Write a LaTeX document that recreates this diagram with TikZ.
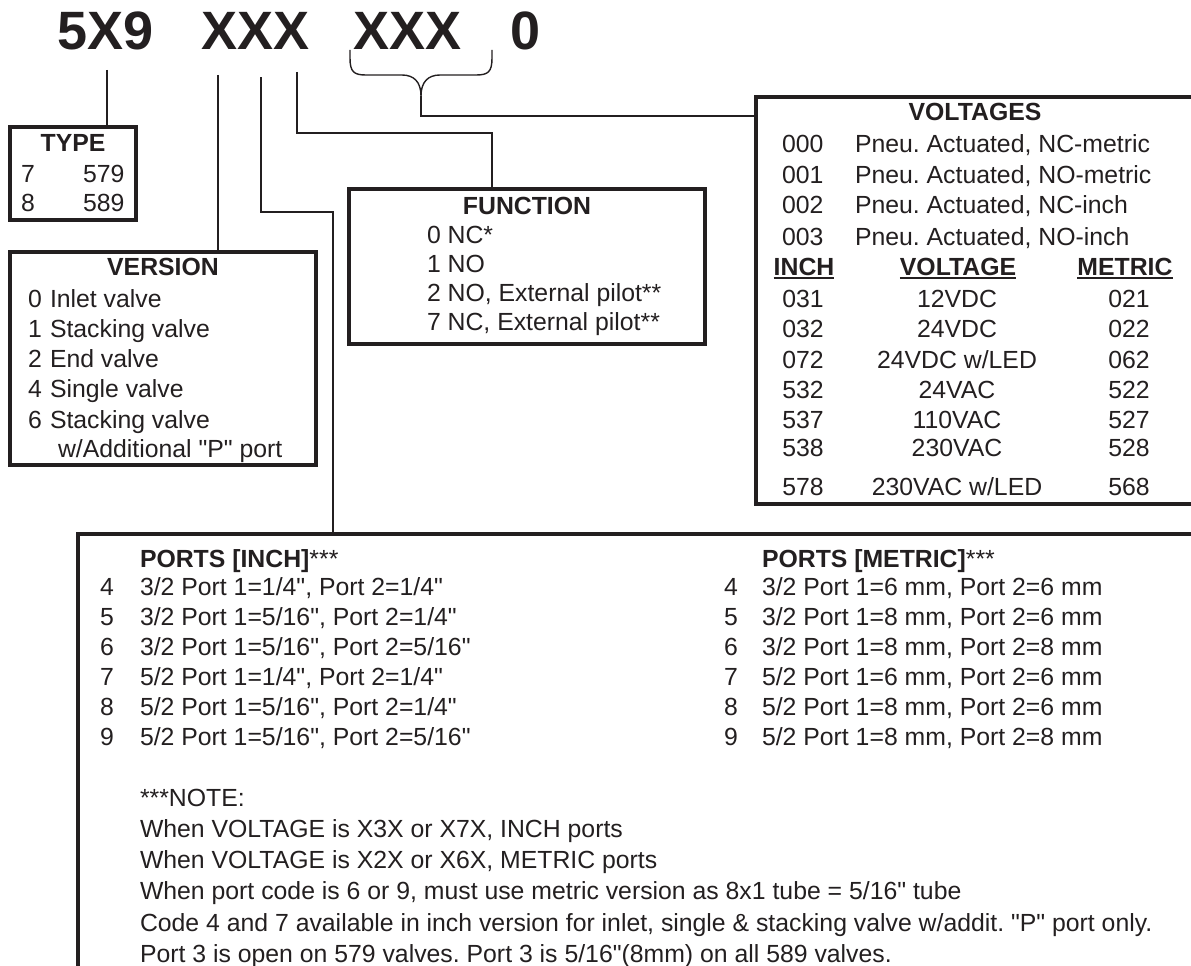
\documentclass[tikz,border=0pt]{standalone}
\usepackage{fontspec}
\setmainfont{Liberation Sans}[Ligatures=TeXOff]
\definecolor{ink}{RGB}{35,31,32}
\frenchspacing
\begin{document}
\begin{tikzpicture}[x=1pt,y=-1pt,
  every node/.style={inner sep=0pt,outer sep=0pt,text=ink},
  box/.style={draw=ink,line width=3.2pt,anchor=north west},
  conn/.style={draw=ink,line width=1.4pt},
  tl/.style={anchor=base west,font=\fontsize{24.8}{29}\selectfont},
  tc/.style={anchor=base,font=\fontsize{24.8}{29}\selectfont},
  th/.style={anchor=base,font=\fontsize{24.8}{29}\selectfont\bfseries},
  thl/.style={anchor=base west,font=\fontsize{24.8}{29}\selectfont\bfseries},
  hdr/.style={anchor=base west,font=\fontsize{54}{60}\selectfont\bfseries},
  ul/.style={draw=ink,line width=2pt}]
\useasboundingbox (0,0) rectangle (1191,966);

% header code
\node[hdr] (h1) at (57,50) {5X9};
\node[hdr] (h2) at (201,50) {XXX};
\node[hdr] (h3) at (353,50) {XXX};
\node[hdr] (h4) at (510,50) {0};

% boxes
\node[box,minimum width=126pt,minimum height=93pt] (typebox) at (10,127) {};
\node[box,minimum width=306pt,minimum height=213pt] (versionbox) at (10,252) {};
\node[box,minimum width=356pt,minimum height=155pt] (funcbox) at (349,189) {};
\node[box,minimum width=460pt,minimum height=407pt] (voltbox) at (756,97) {};
\node[box,minimum width=1140pt,minimum height=460pt] (portsbox) at (78,534) {};

% connector start points
\coordinate (ct) at (107,70);
\coordinate (cv) at (218,75);
\coordinate (cp) at (261,77);
\coordinate (pk) at (333,212);
\coordinate (cf) at (297,72);
\coordinate (fk) at (492,133);
\coordinate (bt) at (421,96);
\coordinate (bk) at (421,116);

\draw[conn] (ct) -- (ct |- typebox.north);
\draw[conn] (cv) -- (cv |- versionbox.north);
\draw[conn] (cp) |- (pk) -- (pk |- portsbox.north);
\draw[conn] (cf) |- (fk) -- (fk |- funcbox.north);
\draw[conn] (350,50) -- (350,58) .. controls (350,72) and (354,75) .. (366,75) -- (402,75)
  .. controls (414,75) and (421,82) .. (bt)
  .. controls (421,82) and (428,75) .. (440,75) -- (476,75)
  .. controls (488,75) and (492,72) .. (492,58) -- (492,50);
\draw[conn] (bt) -- (bk) -- (bk -| voltbox.west);

% TYPE
\node[th] (tyt) at (73,151) {TYPE};
\node[tl] (ty1a) at (21,182) {7};
\node[tl] (ty1b) at (83,182) {579};
\node[tl] (ty2a) at (21,211) {8};
\node[tl] (ty2b) at (83,211) {589};

% VERSION
\node[th] (vet) at (163,275) {VERSION};
\node[tl] (ve0) at (28,307) {0};\node[tl] (ve0t) at (50,307) {Inlet valve};
\node[tl] (ve1) at (28,337) {1};\node[tl] (ve1t) at (50,337) {Stacking valve};
\node[tl] (ve2) at (28,367) {2};\node[tl] (ve2t) at (50,367) {End valve};
\node[tl] (ve4) at (28,397) {4};\node[tl] (ve4t) at (50,397) {Single valve};
\node[tl] (ve6) at (28,428) {6};\node[tl] (ve6t) at (50,428) {Stacking valve};
\node[tl] (ve6u) at (58,457) {w/Additional "P" port};

% FUNCTION
\node[th] (fut) at (527,214) {FUNCTION};
\node[tl] (fu0) at (427,243) {0 NC*};
\node[tl] (fu1) at (427,272) {1 NO};
\node[tl] (fu2) at (427,301) {2 NO, External pilot**};
\node[tl] (fu7) at (427,330) {7 NC, External pilot**};

% VOLTAGES
\node[th] (vot) at (975,120) {VOLTAGES};
\node[tl] (vp0) at (782,152) {000};\node[tl] (vp0t) at (855,152) {Pneu. Actuated, NC-metric};
\node[tl] (vp1) at (782,183) {001};\node[tl] (vp1t) at (855,183) {Pneu. Actuated, NO-metric};
\node[tl] (vp2) at (782,213) {002};\node[tl] (vp2t) at (855,213) {Pneu. Actuated, NC-inch};
\node[tl] (vp3) at (782,245) {003};\node[tl] (vp3t) at (855,245) {Pneu. Actuated, NO-inch};
\node[th] (vhi) at (804,275) {INCH};
\node[th] (vhv) at (958,275) {VOLTAGE};
\node[th] (vhm) at (1125,275) {METRIC};
\draw[ul] ([yshift=-3pt]vhi.base west) -- ([yshift=-3pt]vhi.base east);
\draw[ul] ([yshift=-3pt]vhv.base west) -- ([yshift=-3pt]vhv.base east);
\draw[ul] ([yshift=-3pt]vhm.base west) -- ([yshift=-3pt]vhm.base east);
\foreach \y/\a/\b/\c [count=\i] in {307/031/{12VDC}/021, 337/032/{24VDC}/022, 368/072/{24VDC w/LED}/062,
  398/532/{24VAC}/522, 428/537/{110VAC}/527, 456/538/{230VAC}/528, 495/578/{230VAC w/LED}/568}{
  \node[tc] (vi\i) at (803,\y) {\a};
  \node[tc] (vv\i) at (957,\y) {\b};
  \node[tc] (vm\i) at (1129,\y) {\c};
}

% PORTS
\node[thl] (pit) at (140,567) {PORTS [INCH]\mdseries***};
\node[thl] (pmt) at (762,567) {PORTS [METRIC]\mdseries***};
\foreach \y/\n/\a/\b [count=\i] in {
  595/4/{3/2 Port 1=1/4", Port 2=1/4"}/{3/2 Port 1=6 mm, Port 2=6 mm},
  625/5/{3/2 Port 1=5/16", Port 2=1/4"}/{3/2 Port 1=8 mm, Port 2=6 mm},
  655/6/{3/2 Port 1=5/16", Port 2=5/16"}/{3/2 Port 1=8 mm, Port 2=8 mm},
  685/7/{5/2 Port 1=1/4", Port 2=1/4"}/{5/2 Port 1=6 mm, Port 2=6 mm},
  715/8/{5/2 Port 1=5/16", Port 2=1/4"}/{5/2 Port 1=8 mm, Port 2=6 mm},
  745/9/{5/2 Port 1=5/16", Port 2=5/16"}/{5/2 Port 1=8 mm, Port 2=8 mm}}{
  \node[tl] (pin\i) at (100,\y) {\n};
  \node[tl] (pit\i) at (140,\y) {\a};
  \node[tl] (pmn\i) at (724,\y) {\n};
  \node[tl] (pmt\i) at (762,\y) {\b};
}

% NOTE
\node[tl] (n0) at (140,806) {***NOTE:};
\node[tl] (n1) at (140,837) {When VOLTAGE is X3X or X7X, INCH ports};
\node[tl] (n2) at (140,868) {When VOLTAGE is X2X or X6X, METRIC ports};
\node[tl] (n3) at (140,899) {When port code is 6 or 9, must use metric version as 8x1 tube = 5/16" tube};
\node[tl] (n4) at (140,931) {Code 4 and 7 available in inch version for inlet, single \& stacking valve w/addit. "P" port only.};
\node[tl] (n5) at (140,962) {Port 3 is open on 579 valves. Port 3 is 5/16"(8mm) on all 589 valves.};
\end{tikzpicture}
\end{document}
